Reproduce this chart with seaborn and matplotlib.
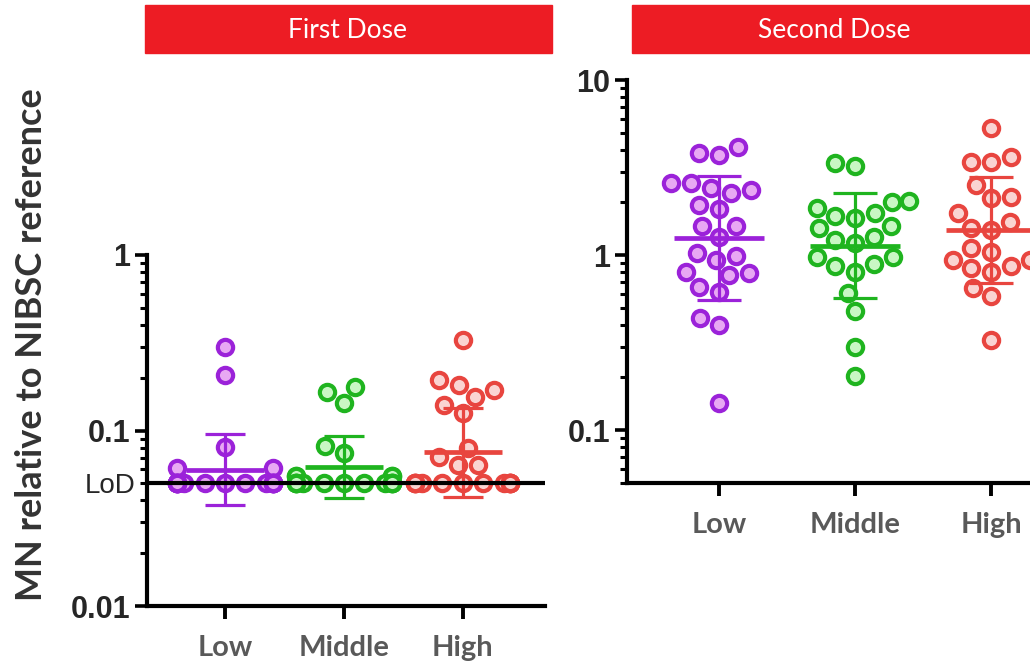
import numpy as np
import pandas as pd
import matplotlib
matplotlib.use('Agg')
import matplotlib.pyplot as plt
import seaborn as sns
from matplotlib.patches import Rectangle

# ── data ─────────────────────────────────────────────────────────
groups = ['Low', 'Middle', 'High']
edge_colors = ['#9B22D9', '#1FB41F', '#E8453F']
fill_colors = ['#E8A8F3', '#C9F7C4', '#FAD4D2']
lod = 0.05

first_low = [0.30, 0.207, 0.081, 0.061, 0.061,
             0.05, 0.05, 0.05, 0.05, 0.05, 0.05, 0.05, 0.05, 0.05,
             0.05, 0.05, 0.05, 0.05, 0.05, 0.05, 0.05, 0.05, 0.05]
first_mid = [0.177, 0.165, 0.143, 0.082, 0.074, 0.055, 0.055, 0.055, 0.055,
             0.05, 0.05, 0.05, 0.05, 0.05, 0.05, 0.05, 0.05, 0.05,
             0.05, 0.05, 0.05, 0.05]
first_high = [0.328, 0.194, 0.182, 0.170, 0.155, 0.140, 0.126, 0.080, 0.071,
              0.064, 0.064, 0.05, 0.05, 0.05, 0.05, 0.05, 0.05, 0.05,
              0.05, 0.05, 0.05, 0.05, 0.05, 0.05, 0.05]

second_low = [4.14, 3.83, 3.73, 2.58, 2.58, 2.41, 2.35, 2.26, 1.93, 1.83,
              1.47, 1.47, 1.27, 1.03, 0.99, 0.94, 0.80, 0.79, 0.77, 0.66,
              0.615, 0.436, 0.40, 0.143]
second_mid = [3.36, 3.23, 2.04, 2.0, 1.86, 1.74, 1.67, 1.63, 1.47, 1.43,
              1.27, 1.22, 1.17, 0.97, 0.97, 0.89, 0.86, 0.80, 0.607, 0.478,
              0.298, 0.204]
second_high = [5.3, 3.63, 3.4, 3.4, 2.51, 2.14, 2.12, 1.74, 1.55, 1.43,
               1.39, 1.10, 1.04, 0.94, 0.94, 0.86, 0.84, 0.80, 0.65, 0.58,
               0.327]


def make_df(low, mid, high):
    return pd.DataFrame({
        'group': ['Low'] * len(low) + ['Middle'] * len(mid) + ['High'] * len(high),
        'value': low + mid + high,
    })


def geo_stats(v):
    """geometric mean and mean -/+ geometric SD"""
    logs = np.log10(v)
    m, s = logs.mean(), logs.std(ddof=1)
    return 10 ** m, 10 ** (m - s), 10 ** (m + s)


sns.set_style('ticks')
plt.rcParams['font.family'] = ['Liberation Sans', 'DejaVu Sans']

W, H = 1030, 665
fig = plt.figure(figsize=(W / 100, H / 100), dpi=100)


def fig_box(x0, y_top, x1, y_bot):
    return [x0 / W, 1 - y_bot / H, (x1 - x0) / W, (y_bot - y_top) / H]


ax1 = fig.add_axes(fig_box(147, 255, 545, 606))
ax2 = fig.add_axes(fig_box(627, 80, 1083, 482.7))


def draw_panel(ax, df, ylim, xlim):
    ax.set_yscale('log')
    ax.set_ylim(*ylim)
    sns.swarmplot(data=df, x='group', y='value', hue='group', order=groups,
                  hue_order=groups, palette=fill_colors, size=11, linewidth=3,
                  warn_thresh=1, legend=False, ax=ax, zorder=2)
    for coll in ax.collections:
        i = int(round(coll.get_offsets()[:, 0].mean()))
        coll.set_facecolor(fill_colors[i])
        coll.set_edgecolor(edge_colors[i])

    for i, g in enumerate(groups):
        gm, lo, hi = geo_stats(df.loc[df.group == g, 'value'].to_numpy())
        c = edge_colors[i]
        ax.hlines(gm, i - 0.33, i + 0.33, color=c, lw=3.4, zorder=4)
        ax.vlines(i, lo, hi, color=c, lw=2.3, zorder=4)
        ax.hlines([lo, hi], i - 0.165, i + 0.165, color=c, lw=2.3, zorder=4)

    ax.set_xlim(*xlim)
    ax.set_ylim(*ylim)
    sns.despine(ax=ax)
    for sp in ['left', 'bottom']:
        ax.spines[sp].set_linewidth(3)
        ax.spines[sp].set_color('black')
    ax.set_xlabel('')
    ax.set_ylabel('')
    ax.set_xticks([0, 1, 2], groups, fontfamily='Lato', fontweight='bold',
                  color='#595959', fontsize=21)
    ax.tick_params(axis='x', length=9, width=2.8, pad=12, color='black')
    ax.tick_params(axis='y', which='major', length=9, width=2.6, pad=3, color='black')
    ax.tick_params(axis='y', which='minor', length=5, width=2.2, pad=3, color='black')


# ── left panel: first dose ───────────────────────────────────────
df1 = make_df(first_low, first_mid, first_high)
draw_panel(ax1, df1, (0.01, 1), (-0.655, 2.69))
ax1.axhline(lod, color='black', lw=3, zorder=5)
ax1.set_yticks([0.01, 0.1, 1], ['0.01', '0.1', '1'], fontweight='bold', fontsize=22)
minor1 = [k * 10.0 ** e for e in (-2, -1) for k in range(2, 10)]
ax1.set_yticks(minor1, ['LoD' if np.isclose(v, lod) else '' for v in minor1],
               minor=True, fontsize=20)

# ── right panel: second dose ─────────────────────────────────────
df2 = make_df(second_low, second_mid, second_high)
draw_panel(ax2, df2, (0.05, 10), (-0.676, 2.676))
ax2.set_yticks([0.1, 1, 10], ['0.1', '1', '10'], fontweight='bold', fontsize=22)
minor2 = [k * 10.0 ** e for e in (-2, -1, 0) for k in range(2, 10)]
minor2 = [v for v in minor2 if 0.05 <= v <= 10]
ax2.set_yticks(minor2, [''] * len(minor2), minor=True)

# ── header bars ──────────────────────────────────────────────────
for (x0, x1) in [(145, 552), (632, 1035)]:
    fig.patches.append(Rectangle((x0 / W, 1 - 53 / H), (x1 - x0) / W, 48 / H,
                                 transform=fig.transFigure, color='#ED1C24', zorder=0))
center = {'First Dose': 348, 'Second Dose': 834}
for label, cx in center.items():
    fig.text(cx / W, 1 - 30 / H, label, ha='center', va='center', color='white',
             fontsize=19, fontfamily='Lato')

fig.text(32 / W, 1 - 345 / H, 'MN relative to NIBSC reference', rotation=90,
         ha='center', va='center', fontsize=26, fontweight='bold',
         fontfamily='Lato', color='#333333')

fig.savefig('out.png', dpi=100)
